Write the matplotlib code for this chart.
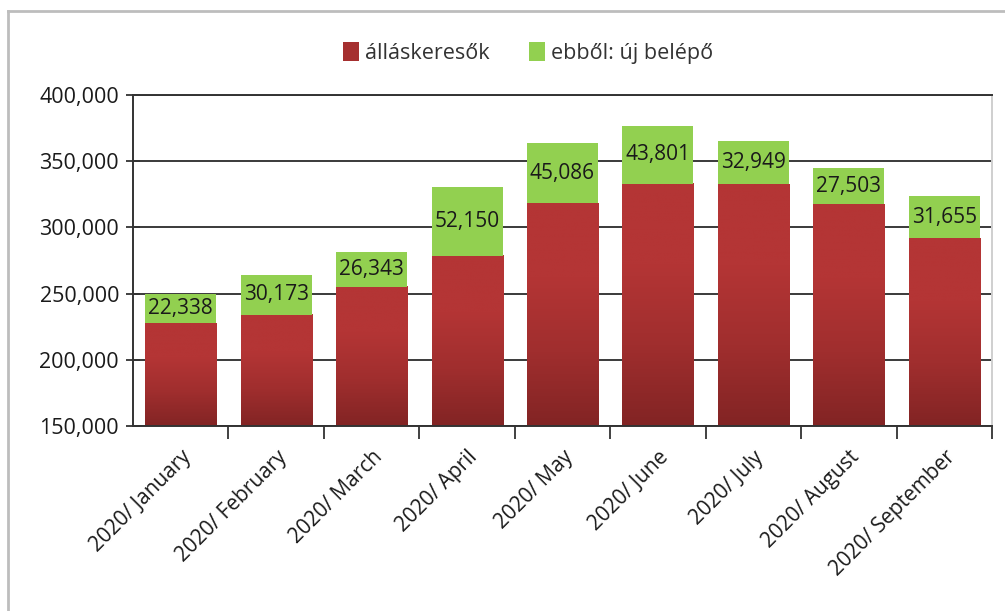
import matplotlib
matplotlib.use("Agg")
import matplotlib.pyplot as plt
import numpy as np
from matplotlib.colors import LinearSegmentedColormap
from matplotlib.lines import Line2D
from matplotlib.patches import Patch
from matplotlib.ticker import FuncFormatter, MultipleLocator, FixedLocator

# ── Data ──
months = ["2020/ January", "2020/ February", "2020/ March", "2020/ April",
          "2020/ May", "2020/ June", "2020/ July", "2020/ August",
          "2020/ September"]
job_seekers = [227600, 233900, 255000, 278700, 318400, 332800, 332550,
               317300, 291800]
new_entrants = [22338, 30173, 26343, 52150, 45086, 43801, 32949, 27503, 31655]

RED_TOP = "#B43535"
RED_BOTTOM = "#822424"
GREEN = "#92D050"
Y_MIN, Y_MAX = 150000, 400000

plt.rcParams["font.family"] = ["Open Sans", "DejaVu Sans"]

fig = plt.figure(figsize=(10.05, 6.11), dpi=100)
ax = fig.add_axes([133 / 1005, 1 - 426 / 611, 859 / 1005, 331 / 611])

x = np.arange(len(months))
width = 0.745

# red bars with a vertical gradient (dark at the bottom)
red_cmap = LinearSegmentedColormap.from_list(
    "redgrad", [RED_BOTTOM, "#a02e2e", RED_TOP, RED_TOP], N=256)
grad = np.linspace(0, 1, 256).reshape(-1, 1)
for xi, val in zip(x, job_seekers):
    ax.imshow(grad, cmap=red_cmap, origin="lower", aspect="auto",
              extent=[xi - width / 2, xi + width / 2, Y_MIN, val], zorder=2)

ax.bar(x, new_entrants, width=width, bottom=job_seekers, color=GREEN,
       zorder=2, linewidth=0)

for xi, base, val in zip(x, job_seekers, new_entrants):
    ax.text(xi, base + val / 2, f"{val:,}", ha="center", va="center",
            fontsize=15, color="#1a1a1a", zorder=3)

ax.set_xlim(-0.5, len(months) - 0.5)
ax.set_ylim(Y_MIN, Y_MAX)

# axes styling
ax.yaxis.set_major_locator(MultipleLocator(50000))
ax.yaxis.set_major_formatter(FuncFormatter(lambda v, _: f"{int(v):,}"))
ax.grid(axis="y", color="#3a3a3a", linewidth=1.4, zorder=1)
ax.set_axisbelow(True)

ax.set_xticks(x)
ax.set_xticklabels(months, rotation=45, ha="right", rotation_mode="anchor",
                   fontsize=15, color="#1a1a1a")
ax.tick_params(axis="x", which="major", length=0, pad=15)
ax.xaxis.set_minor_locator(FixedLocator(x + 0.5))
ax.tick_params(axis="x", which="minor", length=9, width=1.3, color="#333333",
               direction="out")
ax.tick_params(axis="y", length=10, width=1.3, color="#333333",
               direction="inout", labelsize=15.5, labelcolor="#1a1a1a", pad=5)

for side in ("left", "bottom", "top"):
    ax.spines[side].set_color("#333333")
    ax.spines[side].set_linewidth(1.4)
ax.spines["right"].set_color("#cfcfcf")
ax.spines["right"].set_linewidth(1.4)

# legend
handles = [Patch(facecolor="#A52F2F", edgecolor="none", label="álláskeresők"),
           Patch(facecolor=GREEN, edgecolor="none", label="ebből: új belépő")]
fig.legend(handles=handles, loc="center", bbox_to_anchor=(528 / 1005, 1 - 53 / 611),
           ncol=2, frameon=False, fontsize=15.5, handlelength=0.75,
           handleheight=1.0, handletextpad=0.3, columnspacing=1.8,
           labelcolor="#333333")

# outer frame (left and top edges visible)
fig.add_artist(Line2D([8 / 1005, 8 / 1005], [0, 1 - 11 / 611],
                      transform=fig.transFigure, color="#bdbdbd", lw=2))
fig.add_artist(Line2D([8 / 1005, 1], [1 - 11 / 611, 1 - 11 / 611],
                      transform=fig.transFigure, color="#bdbdbd", lw=2))

fig.savefig("out.png", dpi=100)
